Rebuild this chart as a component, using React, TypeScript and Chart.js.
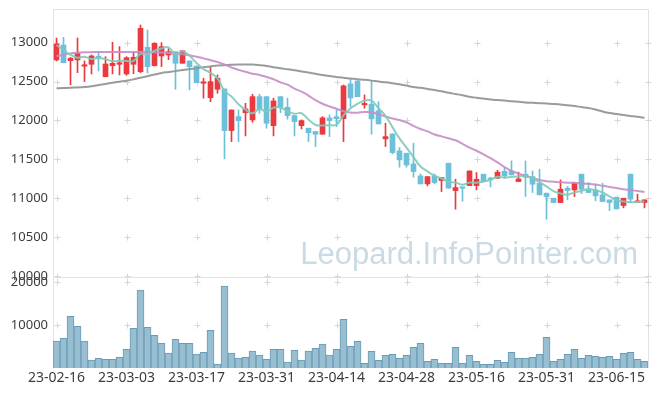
import React, { useEffect, useRef } from 'react';
import { Chart, registerables } from 'chart.js';

Chart.register(...registerables);

const dates = [
  '23-02-16', '23-02-17', '23-02-20', '23-02-21', '23-02-22', '23-02-23', '23-02-24', '23-02-27', '23-02-28', '23-03-02',
  '23-03-03', '23-03-06', '23-03-07', '23-03-08', '23-03-09', '23-03-10', '23-03-13', '23-03-14', '23-03-15', '23-03-16',
  '23-03-17', '23-03-20', '23-03-21', '23-03-22', '23-03-23', '23-03-24', '23-03-27', '23-03-28', '23-03-29', '23-03-30',
  '23-03-31', '23-04-03', '23-04-04', '23-04-05', '23-04-06', '23-04-07', '23-04-10', '23-04-11', '23-04-12', '23-04-13',
  '23-04-14', '23-04-17', '23-04-18', '23-04-19', '23-04-20', '23-04-21', '23-04-24', '23-04-25', '23-04-26', '23-04-27',
  '23-04-28', '23-05-02', '23-05-03', '23-05-04', '23-05-08', '23-05-09', '23-05-10', '23-05-11', '23-05-12', '23-05-15',
  '23-05-16', '23-05-17', '23-05-18', '23-05-19', '23-05-22', '23-05-23', '23-05-24', '23-05-25', '23-05-26', '23-05-30',
  '23-05-31', '23-06-01', '23-06-02', '23-06-05', '23-06-07', '23-06-08', '23-06-09', '23-06-12', '23-06-13', '23-06-14',
  '23-06-15', '23-06-16', '23-06-19', '23-06-20', '23-06-21',
];

const opens = [
  12778, 12970, 12769, 12778, 12697, 12722, 12820, 12563, 12704, 12722,
  12598, 12722, 12627, 12941, 12704, 12829, 12842, 12884, 12735, 12765,
  12700, 12478, 12293, 12401, 12405, 11870, 12049, 12100, 12007, 12306,
  12306, 11933, 12306, 12170, 12062, 11933, 11900, 11857, 11823, 12033,
  12049, 12023, 12470, 12508, 12200, 12210, 12126, 11763, 11827, 11608,
  11579, 11441, 11287, 11184, 11287, 11227, 11450, 11098, 11140, 11162,
  11162, 11309, 11257, 11257, 11347, 11351, 11214, 11309, 11278, 11193,
  11065, 11000, 10944, 11129, 11107, 11309, 11107, 11107, 11043, 10979,
  11013, 10906, 11309, 10944, 10944,
];

const highs = [
  13060, 13069, 12810, 13060, 12765, 12842, 12884, 12820, 13005, 12949,
  12820, 12877, 13227, 13163, 13000, 13000, 12923, 12884, 12897, 12765,
  12700, 12543, 12692, 12585, 12405, 12135, 12135, 12221, 12337, 12337,
  12306, 12286, 12306, 12286, 12062, 12007, 11900, 11857, 12050, 12071,
  12135, 12456, 12540, 12508, 12328, 12508, 12242, 11964, 11827, 11651,
  11579, 11707, 11313, 11278, 11313, 11266, 11450, 11244, 11140, 11351,
  11330, 11309, 11270, 11360, 11386, 11480, 11335, 11480, 11351, 11373,
  11065, 11000, 11236, 11150, 11201, 11309, 11201, 11180, 11193, 10979,
  11013, 11000, 11309, 11052, 10979,
];

const lows = [
  12765, 12740, 12460, 12615, 12500, 12598, 12636, 12560, 12598, 12585,
  12580, 12602, 12615, 12610, 12700, 12692, 12782, 12401, 12735, 12392,
  12486, 12286, 12242, 12350, 11506, 11728, 11728, 11801, 11977, 12093,
  11900, 11801, 12100, 12016, 11801, 11891, 11728, 11664, 11823, 11792,
  11920, 11728, 12178, 12306, 12157, 11823, 11955, 11664, 11570, 11399,
  11399, 11270, 11184, 11158, 11184, 11085, 11129, 10859, 10962, 11162,
  11107, 11214, 11146, 11257, 11257, 11300, 11214, 11021, 11073, 11043,
  10730, 10944, 10944, 10979, 11021, 11060, 11073, 10966, 10957, 10841,
  10863, 10876, 10944, 10944, 10876,
];

const closes = [
  12983, 12743, 12800, 12864, 12710, 12829, 12807, 12726, 12735, 12743,
  12807, 12812, 13185, 12692, 12992, 12949, 12884, 12735, 12897, 12692,
  12486, 12491, 12499, 12543, 11870, 12135, 11998, 12148, 12306, 12144,
  11964, 12251, 12170, 12062, 11985, 11998, 11843, 11823, 12033, 11998,
  12023, 12444, 12290, 12306, 12215, 12020, 11955, 11792, 11587, 11493,
  11428, 11343, 11184, 11278, 11201, 11266, 11129, 11137, 11128, 11351,
  11244, 11214, 11240, 11335, 11287, 11300, 11249, 11270, 11180, 11043,
  11021, 10944, 11116, 11099, 11193, 11116, 11073, 11030, 10957, 10944,
  10863, 11000, 10988, 10966, 10979,
];

const volumes = [
  6280, 6980, 12020, 9690, 6280, 1860, 2250, 2020, 2020, 2480,
  4340, 9230, 18140, 9460, 7600, 5740, 3490, 6670, 5740, 5740,
  3260, 3650, 8760, 930, 19070, 3490, 2330, 2480, 3950, 3020,
  2020, 4340, 4340, 1400, 4110, 1860, 3950, 4570, 5580, 2980,
  4340, 11330, 5040, 6200, 1090, 3880, 1780, 2950, 3180, 2250,
  2950, 4810, 5740, 1550, 2020, 1090, 1090, 4810, 1090, 2950,
  1550, 850, 850, 1780, 1320, 3650, 2250, 2250, 2480, 3180,
  7130, 1550, 2020, 3180, 4340, 2250, 2950, 2710, 2480, 2710,
  2020, 3410, 3650, 2020, 1550,
];

const ma5 = [
  12970, 12906, 12842, 12807, 12820, 12789, 12802, 12787, 12761, 12768,
  12764, 12765, 12856, 12848, 12898, 12926, 12940, 12850, 12891, 12831,
  12739, 12660, 12613, 12542, 12378, 12308, 12209, 12139, 12091, 12146,
  12112, 12163, 12167, 12118, 12086, 12093, 12012, 11942, 11936, 11939,
  11944, 12064, 12158, 12212, 12256, 12255, 12157, 12058, 11914, 11769,
  11651, 11529, 11407, 11345, 11287, 11254, 11212, 11202, 11172, 11202,
  11198, 11215, 11235, 11277, 11264, 11275, 11282, 11288, 11257, 11208,
  11153, 11092, 11061, 11045, 11075, 11094, 11119, 11102, 11074, 11024,
  10973, 10959, 10950, 10952, 10959,
];

const ma20 = [
  12825, 12845, 12860, 12870, 12876, 12878, 12880, 12880, 12880, 12880,
  12880, 12880, 12880, 12880, 12878, 12874, 12868, 12860, 12850, 12838,
  12818, 12798, 12775, 12752, 12720, 12680, 12650, 12625, 12600, 12585,
  12560, 12530, 12490, 12460, 12410, 12370, 12320, 12260, 12215, 12180,
  12150, 12118, 12102, 12100, 12108, 12105, 12080, 12050, 12025, 12005,
  11975, 11930, 11890, 11860, 11820, 11795, 11770, 11745, 11700, 11650,
  11610, 11565, 11515, 11460, 11400, 11350, 11320, 11285, 11260, 11235,
  11218, 11212, 11205, 11200, 11198, 11192, 11185, 11175, 11160, 11145,
  11130, 11115, 11105, 11092, 11080,
];

const ma60 = [
  12414, 12416, 12420, 12425, 12430, 12440, 12455, 12470, 12485, 12498,
  12510, 12528, 12550, 12568, 12590, 12610, 12622, 12634, 12648, 12660,
  12672, 12685, 12695, 12705, 12710, 12715, 12718, 12720, 12718, 12710,
  12700, 12685, 12670, 12658, 12645, 12630, 12615, 12600, 12585, 12572,
  12560, 12548, 12540, 12530, 12522, 12512, 12500, 12490, 12478, 12465,
  12448, 12430, 12420, 12405, 12390, 12375, 12355, 12340, 12325, 12305,
  12292, 12282, 12270, 12262, 12255, 12248, 12240, 12232, 12227, 12222,
  12218, 12212, 12205, 12195, 12185, 12172, 12160, 12140, 12115, 12095,
  12082, 12070, 12058, 12046, 12036,
];

const priceTicks = [10000, 10500, 11000, 11500, 12000, 12500, 13000];
const volumeTicks = [10000, 20000];
const watermark = 'Leopard.InfoPointer.com';

const UP = '#ea3a3f';
const DOWN = '#6cc0da';
const TICK_COLOR = '#3c3c3c';
const FONT = 'Noto Sans';

function framePlugin(yTicks: number[], drawTop: boolean, drawBottom: boolean) {
  return {
    id: 'frame',
    beforeDatasetsDraw(chart: any) {
      const { ctx, chartArea: a, scales } = chart;
      ctx.save();
      ctx.lineWidth = 1;
      ctx.strokeStyle = '#e2e2e2';
      const L = Math.round(a.left) + 0.5;
      const R = Math.round(a.right) + 0.5;
      const T = Math.round(a.top) - 0.5;
      const B = Math.round(a.bottom) + 0.5;
      ctx.beginPath();
      ctx.moveTo(L, T);
      ctx.lineTo(L, B);
      ctx.moveTo(R, T);
      ctx.lineTo(R, B);
      if (drawTop) {
        ctx.moveTo(L, T);
        ctx.lineTo(R, T);
      }
      if (drawBottom) {
        ctx.moveTo(L, B);
        ctx.lineTo(R, B);
      }
      ctx.stroke();

      ctx.strokeStyle = '#d6d6d6';
      const xs: number[] = [];
      for (let i = 0; i < dates.length; i += 10) xs.push(Math.round(scales.x.getPixelForValue(i)));
      xs.push(Math.round(a.right));
      ctx.beginPath();
      for (const v of yTicks) {
        const py = Math.round(scales.y.getPixelForValue(v)) + 0.5;
        for (const px0 of xs) {
          const px = px0 + 0.5;
          ctx.moveTo(px - 3, py);
          ctx.lineTo(px + 3, py);
          ctx.moveTo(px, py - 3);
          ctx.lineTo(px, py + 3);
        }
      }
      ctx.stroke();
      ctx.restore();
    },
  };
}

const watermarkPlugin = {
  id: 'watermark',
  beforeDatasetsDraw(chart: any) {
    const { ctx } = chart;
    ctx.save();
    ctx.font = '31px "Liberation Sans"';
    ctx.fillStyle = '#cadbe6';
    ctx.textAlign = 'right';
    ctx.textBaseline = 'alphabetic';
    ctx.fillText(watermark, 638, 264);
    ctx.restore();
  },
};

const fixYAxis = (s: any) => {
  s.width = 53;
  s.paddingTop = 0;
  s.paddingBottom = 0;
};

export default function App() {
  const priceRef = useRef<HTMLCanvasElement>(null);
  const volRef = useRef<HTMLCanvasElement>(null);

  useEffect(() => {
    Chart.defaults.font.family = FONT;
    const colors = opens.map((o, i) => (closes[i] >= o ? UP : DOWN));
    const bodies = opens.map((o, i) => [o, closes[i]]);
    const wicks = lows.map((l, i) => [l, highs[i]]);
    const plain = (v: any) => String(v);

    const priceChart = new Chart(priceRef.current as HTMLCanvasElement, {
      type: 'bar',
      data: {
        labels: dates,
        datasets: [
          {
            type: 'line',
            data: ma5,
            borderColor: 'rgba(128,202,184,0.9)',
            borderWidth: 2,
            pointRadius: 0,
            tension: 0.35,
          } as any,
          {
            type: 'line',
            data: ma20,
            borderColor: 'rgba(200,140,198,0.9)',
            borderWidth: 2,
            pointRadius: 0,
            tension: 0.35,
          } as any,
          {
            type: 'line',
            data: ma60,
            borderColor: 'rgba(150,150,150,0.95)',
            borderWidth: 2,
            pointRadius: 0,
            tension: 0.35,
          } as any,
          {
            type: 'bar',
            data: bodies,
            backgroundColor: colors,
            barThickness: 5,
            grouped: false,
            minBarLength: 1.5,
          } as any,
          {
            type: 'bar',
            data: wicks,
            backgroundColor: colors,
            barThickness: 1,
            grouped: false,
          } as any,
        ],
      },
      options: {
        responsive: false,
        animation: false,
        layout: { padding: { left: 0, right: 9, top: 10, bottom: 14 } },
        plugins: { legend: { display: false }, tooltip: { enabled: false } },
        scales: {
          x: { display: false, offset: true },
          y: {
            min: 10000,
            max: 13420,
            grid: { display: false, drawTicks: false },
            border: { display: false },
            afterBuildTicks: (s: any) => {
              s.ticks = priceTicks.map((v) => ({ value: v }));
            },
            afterFit: fixYAxis,
            ticks: { color: TICK_COLOR, font: { size: 13, family: FONT }, padding: 5, callback: plain },
          },
        },
      },
      plugins: [watermarkPlugin, framePlugin(priceTicks, true, false)],
    } as any);

    const volChart = new Chart(volRef.current as HTMLCanvasElement, {
      type: 'bar',
      data: {
        labels: dates,
        datasets: [
          {
            data: volumes,
            backgroundColor: '#98bfd1',
            borderColor: '#6a9cb5',
            borderWidth: 1,
            barPercentage: 1,
            categoryPercentage: 1,
          },
        ],
      },
      options: {
        responsive: false,
        animation: false,
        layout: { padding: { left: 0, right: 9, top: 8, bottom: 0 } },
        plugins: { legend: { display: false }, tooltip: { enabled: false } },
        scales: {
          x: {
            offset: true,
            grid: { display: false, drawTicks: false },
            border: { display: false },
            afterFit: (s: any) => {
              s.height = 28;
            },
            ticks: {
              autoSkip: false,
              maxRotation: 0,
              minRotation: 0,
              padding: 2,
              color: TICK_COLOR,
              font: { size: 14, family: FONT },
              callback: (_v: any, i: number) => (i % 10 === 0 ? dates[i] : ''),
            },
          },
          y: {
            min: 0,
            max: 20930,
            grid: { display: false, drawTicks: false },
            border: { display: false },
            afterBuildTicks: (s: any) => {
              s.ticks = volumeTicks.map((v) => ({ value: v }));
            },
            afterFit: fixYAxis,
            ticks: { color: TICK_COLOR, font: { size: 13, family: FONT }, padding: 5, callback: plain },
          },
        },
      },
      plugins: [framePlugin(volumeTicks, true, false)],
    } as any);

    return () => {
      priceChart.destroy();
      volChart.destroy();
    };
  }, []);

  return (
    <div style={{ position: 'fixed', left: 0, top: 0, width: 657, height: 396, background: '#fff' }}>
      <canvas ref={priceRef} width={657} height={290} style={{ position: 'absolute', left: 0, top: 0 }} />
      <canvas ref={volRef} width={657} height={126} style={{ position: 'absolute', left: 0, top: 270 }} />
    </div>
  );
}
